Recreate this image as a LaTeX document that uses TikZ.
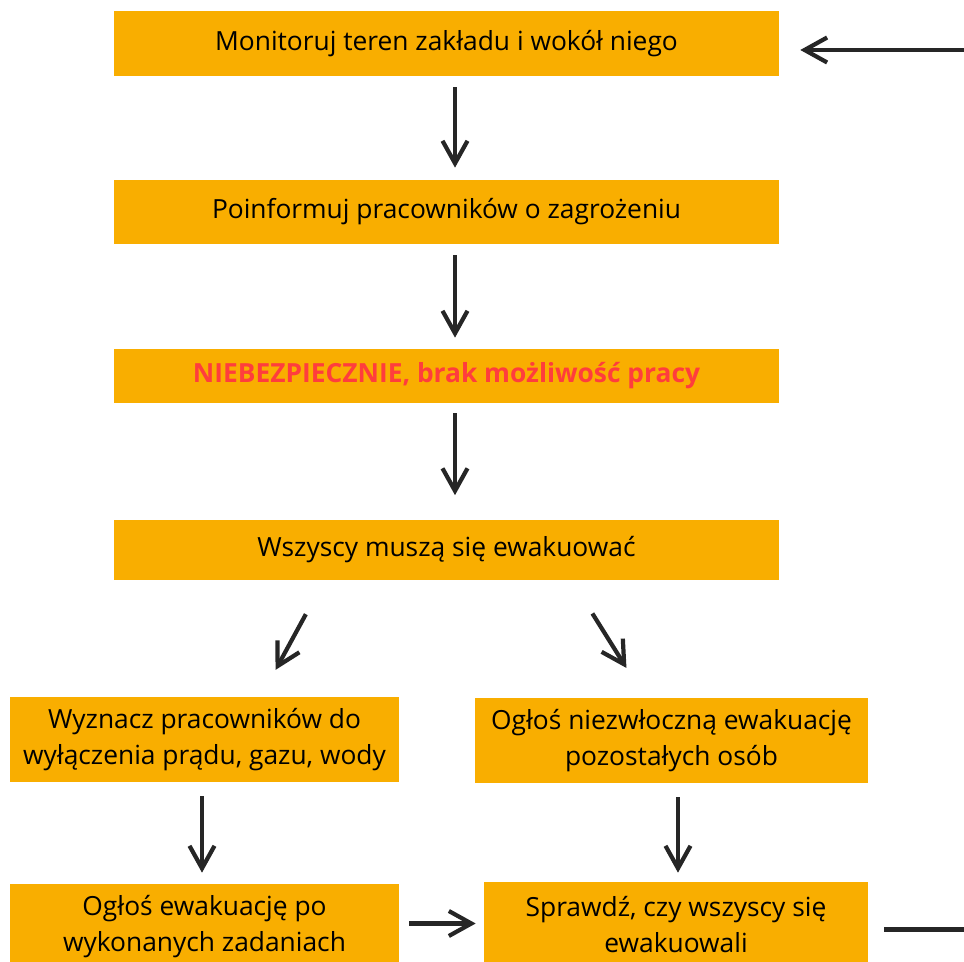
\documentclass[tikz,border=0pt]{standalone}
\usepackage{fontspec}
\setmainfont{Open Sans}
\usetikzlibrary{arrows.meta}
\definecolor{BoxOrange}{HTML}{F9AE00}
\definecolor{AlarmRed}{HTML}{FF3D3D}

\begin{document}
\begin{tikzpicture}[x=0.02cm, y=-0.02cm,
    box/.style={fill=BoxOrange, inner sep=0pt, align=center, font=\fontsize{15}{20.6}\selectfont},
    arr/.style={-{Straight Barb[length=0.45cm, width=0.5cm]}, line width=2.4pt, black!85}]
    \useasboundingbox (0,0) rectangle (964,962);
    \clip (0,0) rectangle (964,962);

    % Main column of steps
    \node[box, minimum width=13.3cm, minimum height=1.3cm] (mon) at (446.5,43.5) {Monitoruj teren zakładu i wokół niego};
    \node[box, minimum width=13.3cm, minimum height=1.28cm] (inf) at (446.5,212) {Poinformuj pracowników o zagrożeniu};
    \node[box, minimum width=13.3cm, minimum height=1.08cm] (nieb) at (446.5,376) {\bfseries\color{AlarmRed}NIEBEZPIECZNIE, brak możliwość pracy};
    \node[box, minimum width=13.3cm, minimum height=1.22cm] (ewak) at (446.5,550) {Wszyscy muszą się ewakuować};

    % Two branches
    \node[box, minimum width=7.78cm, minimum height=1.7cm] (wyzn) at (204.5,739.5) {Wyznacz pracowników do\\wyłączenia prądu, gazu, wody};
    \node[box, minimum width=7.86cm, minimum height=1.7cm] (ogl) at (671.5,740.5) {Ogłoś niezwłoczną ewakuację\\pozostałych osób};
    \node[box, minimum width=7.78cm, minimum height=1.7cm] (oglpo) at (204.5,926.5) {Ogłoś ewakuację po\\wykonanych zadaniach};
    \node[box, minimum width=7.68cm, minimum height=1.7cm] (spr) at (676,924.5) {Sprawdź, czy wszyscy się\\ewakuowali};

    % Arrows down the main column
    \draw[arr, shorten <=0.22cm, shorten >=0.24cm] ([xshift=0.17cm]mon.south) -- ([xshift=0.17cm]inf.north);
    \draw[arr, shorten <=0.22cm, shorten >=0.22cm] ([xshift=0.17cm]inf.south) -- ([xshift=0.17cm]nieb.north);
    \draw[arr, shorten <=0.2cm, shorten >=0.48cm] ([xshift=0.17cm]nieb.south) -- ([xshift=0.17cm]ewak.north);

    % Split into two branches
    \draw[arr, shorten <=0.76cm, shorten >=0.61cm] ([xshift=-2.45cm]ewak.south) -- ([xshift=1.13cm]wyzn.north);
    \draw[arr, shorten <=0.77cm, shorten >=0.7cm] ([xshift=2.51cm]ewak.south) -- ([xshift=-0.53cm]ogl.north);

    % Arrows in the branches
    \draw[arr, shorten <=0.28cm, shorten >=0.22cm] ([xshift=-0.05cm]wyzn.south) -- ([xshift=-0.05cm]oglpo.north);
    \draw[arr, shorten <=0.28cm, shorten >=0.18cm] ([xshift=0.13cm]ogl.south) -- ([xshift=0.13cm]ogl.south |- spr.north);
    \draw[arr, shorten <=0.2cm, shorten >=0.16cm] ([yshift=0.06cm]oglpo.east) -- ([yshift=0.06cm]oglpo.east -| spr.west);

    % Loop back to the top
    \draw[arr, shorten <=0.32cm, shorten >=0.42cm] ([yshift=-0.1cm]spr.east) -- ++(2.64cm,0) |- ([yshift=-0.13cm]mon.east);
\end{tikzpicture}
\end{document}
